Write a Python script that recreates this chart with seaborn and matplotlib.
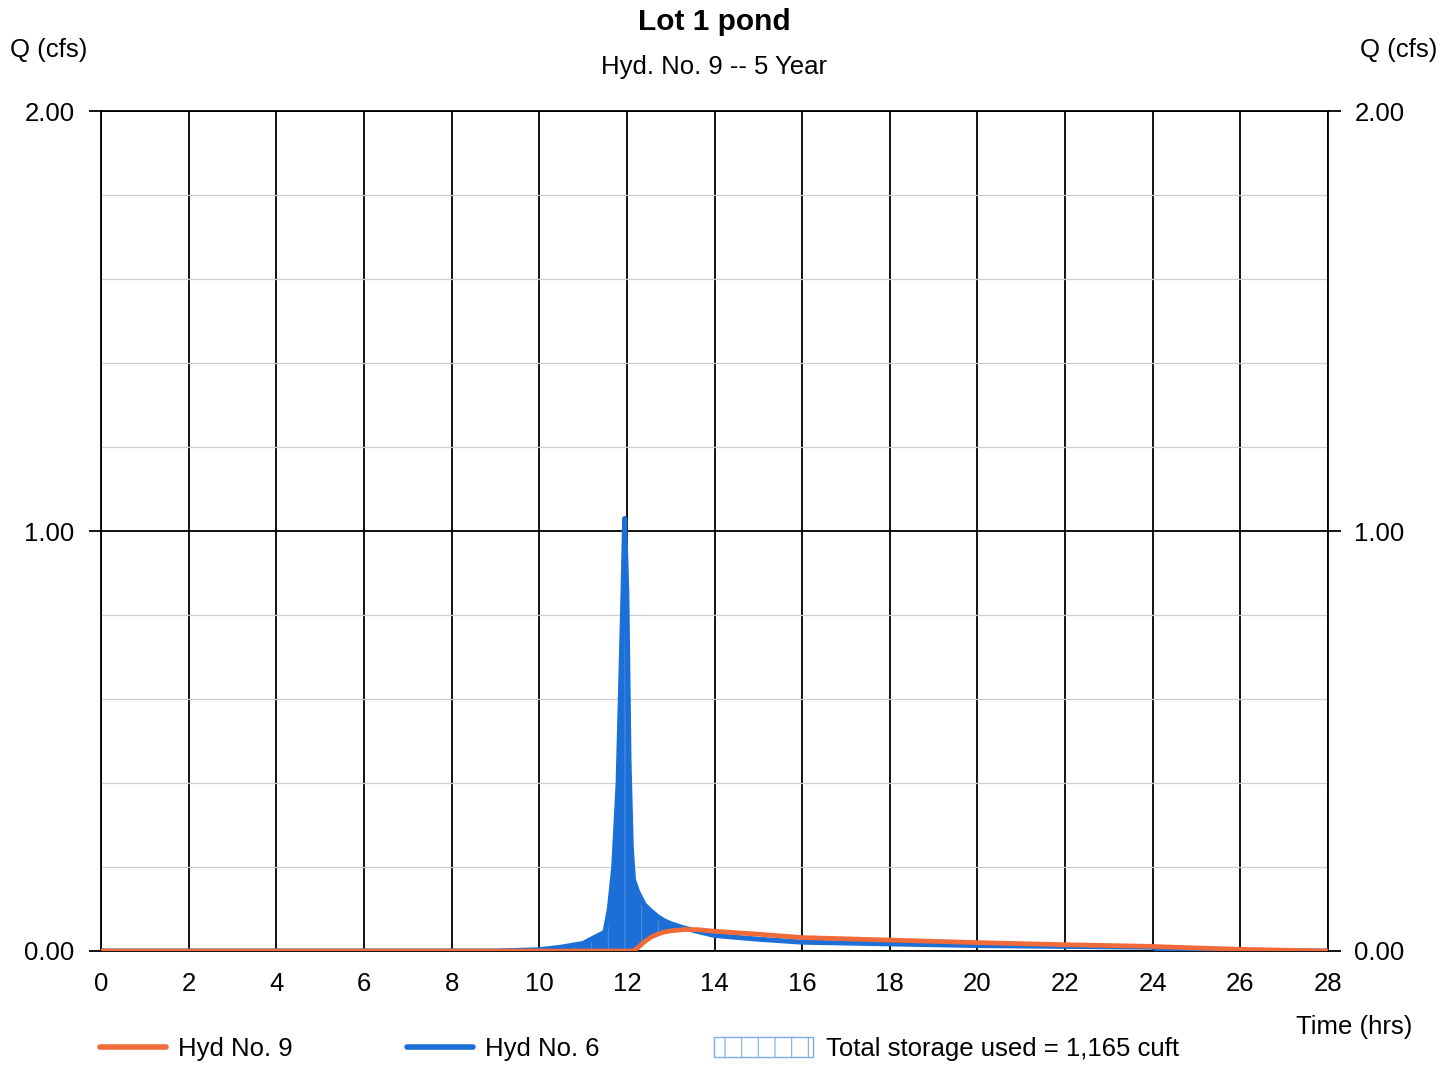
import matplotlib
matplotlib.use("Agg")
import matplotlib.pyplot as plt
import seaborn as sns
import numpy as np
import pandas as pd
from matplotlib.lines import Line2D
from matplotlib.patches import Patch

# ---------------- data ----------------
time_hrs = [0, 9, 10, 10.5, 11, 11.5, 11.6, 11.7, 11.8, 11.9, 11.95, 12.0, 12.05,
            12.1, 12.15, 12.25, 12.4, 12.55, 12.7, 12.85, 13.0, 13.3, 13.6, 14,
            15, 16, 18, 20, 22, 24, 24.2, 26, 28]
hyd6_q = [0, 0, 0.003, 0.009, 0.018, 0.045, 0.1, 0.2, 0.4, 0.8, 1.03, 0.85, 0.45,
          0.25, 0.17, 0.14, 0.11, 0.095, 0.082, 0.072, 0.065, 0.055, 0.047, 0.037,
          0.028, 0.021, 0.017, 0.013, 0.011, 0.009, 0.001, 0.0, 0.0]
hyd9_q = [0, 0, 0, 0, 0, 0, 0, 0, 0, 0, 0, 0, 0,
          0, 0, 0.008, 0.022, 0.033, 0.04, 0.045, 0.048, 0.051, 0.051, 0.047,
          0.04, 0.032, 0.026, 0.02, 0.015, 0.011, 0.01, 0.004, 0.0]
x_ticks = list(range(0, 29, 2))
y_major = [0.0, 1.0, 2.0]
y_ticklabels = ["0.00", "1.00", "2.00"]
title = "Lot 1 pond"
subtitle = "Hyd. No. 9 -- 5 Year"
legend_labels = ["Hyd No. 9", "Hyd No. 6", "Total storage used = 1,165 cuft"]

BLUE = "#1b6fd6"
ORANGE = "#f06a3a"
FS = 18.5

sns.set_style("white")
plt.rcParams["font.family"] = ["Liberation Sans", "DejaVu Sans"]
plt.rcParams["hatch.linewidth"] = 0.8
plt.rcParams["text.color"] = "black"
plt.rcParams["xtick.color"] = "black"
plt.rcParams["ytick.color"] = "black"
plt.rcParams["xtick.labelcolor"] = "black"
plt.rcParams["ytick.labelcolor"] = "black"

df = pd.DataFrame({"t": time_hrs, "hyd6": hyd6_q, "hyd9": hyd9_q})

fig = plt.figure(figsize=(14.54, 10.65), dpi=100)
ax = fig.add_axes([101 / 1454, 1 - 951 / 1065, (1328 - 101) / 1454, (951 - 111) / 1065])

# storage fill between inflow and outflow
ax.fill_between(df["t"], df["hyd9"], df["hyd6"], where=df["hyd6"] >= df["hyd9"],
                interpolate=True, facecolor=BLUE, edgecolor="#4d8fe3",
                hatch="|", linewidth=0, zorder=2)

sns.lineplot(data=df, x="t", y="hyd6", ax=ax, color=BLUE, linewidth=3.6, zorder=3)
sns.lineplot(data=df, x="t", y="hyd9", ax=ax, color=ORANGE, linewidth=3.4, zorder=4)

ax.set_xlim(0, 28)
ax.set_ylim(0, 2)
ax.set_xlabel("")
ax.set_ylabel("")

# grid
ax.set_xticks(x_ticks)
ax.set_xticklabels([str(v) for v in x_ticks])
ax.set_yticks(y_major)
ax.set_yticklabels(y_ticklabels)
ax.set_yticks(np.arange(0.2, 2.0, 0.2), minor=True)
ax.grid(which="major", axis="both", color="black", linewidth=1.3, zorder=1)
ax.grid(which="minor", axis="y", color="#cfcfcf", linewidth=0.9, zorder=1)
ax.set_axisbelow(True)
for s in ax.spines.values():
    s.set_visible(True)
    s.set_color("black")
    s.set_linewidth(1.3)

ax.tick_params(axis="x", which="major", length=0, pad=15, labelsize=FS)
ax.tick_params(axis="y", which="major", length=9, width=1.3, direction="out",
               left=True, right=True, labelleft=True, labelright=True,
               pad=10, labelsize=FS, color="black")
ax.tick_params(axis="y", which="minor", length=0)

# titles and axis labels
fig.text(714 / 1454, 1 - 22 / 1065, title, ha="center", va="center",
         fontsize=21.5, fontweight="bold")
fig.text(714 / 1454, 1 - 67 / 1065, subtitle, ha="center", va="center", fontsize=FS)
fig.text(10 / 1454, 1 - 50 / 1065, "Q (cfs)", ha="left", va="center", fontsize=FS)
fig.text(1437 / 1454, 1 - 50 / 1065, "Q (cfs)", ha="right", va="center", fontsize=FS)
fig.text(1412 / 1454, 1 - 1027 / 1065, "Time (hrs)", ha="right", va="center", fontsize=FS)

# legend entries
ly = 1 - 1049 / 1065
h1 = Line2D([], [], color=ORANGE, linewidth=4)
h2 = Line2D([], [], color=BLUE, linewidth=4)
h3 = Patch(facecolor="white", edgecolor="#7fa9e3", hatch="|", linewidth=1)
common = dict(loc="center left", frameon=False, borderpad=0, borderaxespad=0,
              fontsize=FS, handletextpad=0.5)
fig.legend([h1], [legend_labels[0]], bbox_to_anchor=(100 / 1454, ly),
           handlelength=2.55, **common)
fig.legend([h2], [legend_labels[1]], bbox_to_anchor=(407 / 1454, ly),
           handlelength=2.55, **common)
fig.legend([h3], [legend_labels[2]], bbox_to_anchor=(714 / 1454, ly),
           handlelength=3.85, handleheight=0.8, **common)

fig.savefig("out.png", dpi=100, facecolor="white")
